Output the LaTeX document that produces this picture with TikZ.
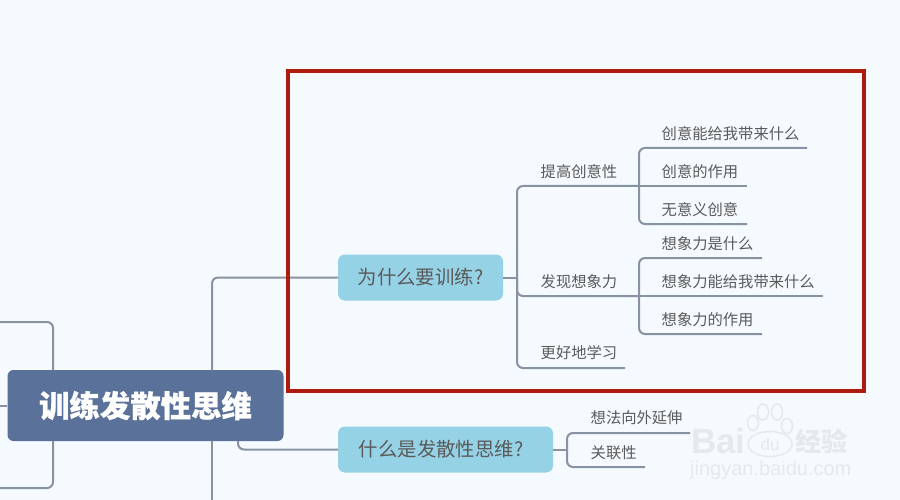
\documentclass[tikz,border=0pt]{standalone}
\usepackage{fontspec}
\setmainfont{Liberation Sans}
\newfontfamily\cjk{Noto Sans CJK SC}
\newfontfamily\cjkroot{Noto Sans CJK SC}[BoldFeatures={FakeBold=0.6}]
\definecolor{bgc}{HTML}{F5FAFE}
\definecolor{linec}{HTML}{8792A2}
\definecolor{redc}{HTML}{AE1A0C}
\definecolor{rootc}{HTML}{5A7199}
\definecolor{subc}{HTML}{96D2E6}
\definecolor{txtc}{HTML}{5A5A5A}
\definecolor{wmc}{HTML}{E6E9EC}
\tikzset{
  x=1pt,y=-1pt,
  conn/.style={draw=linec,line width=2pt,rounded corners=6pt},
  rootnode/.style={fill=rootc,rounded corners=6pt,minimum width=276pt,minimum height=71pt,inner sep=0pt,text=white,font=\cjkroot\fontsize{30.4}{30.4}\selectfont\bfseries},
  subnode/.style={fill=subc,rounded corners=7pt,minimum height=46pt,inner sep=0pt,text=txtc,font=\cjk\fontsize{19.4}{19.4}\selectfont},
  leaf/.style={anchor=west,inner sep=0pt,text=txtc,font=\cjk\fontsize{15.3}{15.3}\selectfont},
  wmtext/.style={inner sep=0pt,text=wmc},
  paw/.style={draw=wmc,line width=1.5pt,fill=bgc}
}
\begin{document}
\begin{tikzpicture}
\useasboundingbox (0,0) rectangle (900,500);
\fill[bgc] (0,0) rectangle (900,500);

% nodes
\node[rootnode] (root) at (145.5,405.5) {训练发散性思维};
\node[subnode,minimum width=165pt] (why) at (420.5,277.5) {为什么要训练?};
\node[subnode,minimum width=215pt] (what) at (445.5,449.5) {什么是发散性思维?\hspace{9pt}\mbox{}};
\node[leaf] (a) at (540.5,171.5) {提高创意性};
\node[leaf] (b) at (540.5,281.5) {发现想象力};
\node[leaf] (c) at (540.5,352.5) {更好地学习};
\node[leaf] (a1) at (661.5,133.5) {创意能给我带来什么};
\node[leaf] (a2) at (661.5,171.5) {创意的作用};
\node[leaf] (a3) at (661.5,209.5) {无意义创意};
\node[leaf] (b1) at (661.5,243.5) {想象力是什么};
\node[leaf] (b2) at (661.5,281.5) {想象力能给我带来什么};
\node[leaf] (b3) at (661.5,319.8) {想象力的作用};
\node[leaf] (d) at (590.5,417.5) {想法向外延伸};
\node[leaf] (e) at (590.5,452.5) {关联性};

% free ends and branch points
\coordinate (lt) at (0,322);
\coordinate (lm) at (0,405.5);
\coordinate (lb) at (0,488);
\coordinate (tr) at (53,370);
\coordinate (br) at (53,441);
\coordinate (vtop) at (212,370);
\coordinate (vbot) at (212,441);
\coordinate (vend) at (212,500);
\coordinate (rstub) at (238,441);
\coordinate (aE) at (639,186);
\coordinate (bE) at (639,296);
\coordinate (cE) at (625,368);
\coordinate (a1E) at (807,148);
\coordinate (a2E) at (747,186);
\coordinate (a3E) at (747,224);
\coordinate (b1E) at (762,258);
\coordinate (b2E) at (823,296);
\coordinate (b3E) at (762,334);
\coordinate (dE) at (690,433);
\coordinate (eE) at (645,467);
\coordinate (j1) at (517,277.5);
\coordinate (j2) at (567,449.5);

% connectors
\draw[conn] (lt) -| (tr);
\draw[conn] (lb) -| (br);
\draw[conn] (lm) -- (root.west);
\draw[conn] (vend) -- (vbot);
\draw[conn] (why.west) -| (vtop);
\draw[conn] (rstub) |- (what.west);
\draw[conn] (why.east) -- (j1);
\draw[conn] (aE) -| (j1);
\draw[conn] (cE) -| (j1);
\draw[conn] (bE) -| (j1);
\draw[conn] (aE) -- (a2E);
\draw[conn] (bE) -- (b2E);
\draw[conn] (a1E) -| (aE);
\draw[conn] (a3E) -| (aE);
\draw[conn] (b1E) -| (bE);
\draw[conn] (b3E) -| (bE);
\draw[conn] (what.east) -- (j2);
\draw[conn] (dE) -| (j2);
\draw[conn] (eE) -| (j2);

% highlight rectangle
\draw[redc,line width=4pt] (287.5,71.5) rectangle (863.5,390.5);

% watermark
\node[wmtext,font=\fontsize{35}{35}\selectfont\bfseries,anchor=west] (wm1) at (691,441) {Bai};
\node[wmtext,font=\cjk\fontsize{26}{26}\selectfont\bfseries,anchor=west] (wm3) at (795,441) {经验};
\node[wmtext,font=\fontsize{20}{20}\selectfont,anchor=west] (wm4) at (690,470) {jingyan.baidu.com};
\draw[paw] (770,444) ellipse (22 and 12.5);
\draw[paw] (753,423) ellipse (5.5 and 7.5);
\draw[paw] (763,412) ellipse (5.5 and 8);
\draw[paw] (777,412) ellipse (5.5 and 8);
\draw[paw] (787,426) ellipse (5.5 and 7.5);
\node[wmtext,font=\fontsize{17}{17}\selectfont] (wm2) at (770,444) {du};
\end{tikzpicture}
\end{document}
